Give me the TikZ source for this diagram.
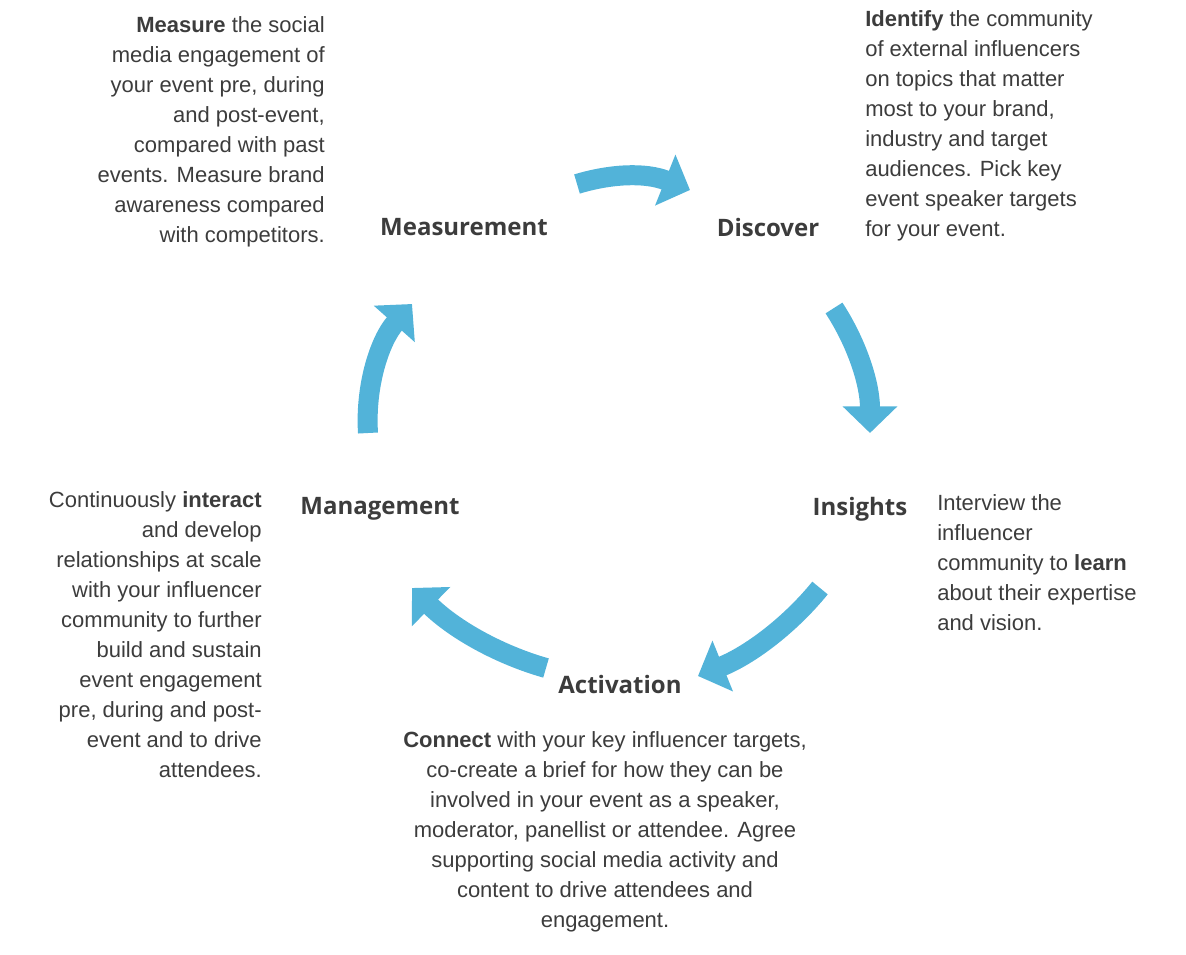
\documentclass[tikz,border=0pt]{standalone}
\usepackage{fontspec}
\setmainfont{Liberation Sans}
\newfontfamily\headfont{Open Sans}
\usetikzlibrary{arrows.meta, positioning}
\definecolor{cycleblue}{HTML}{52B3D9}
\definecolor{txtgray}{HTML}{3C3C3C}
\begin{document}
\begin{tikzpicture}[
   x=0.75pt, y=-0.75pt,
   head/.style = {font=\headfont\bfseries\fontsize{18}{22}\selectfont, text=txtgray},
   body/.style = {font=\fontsize{16.5}{22.5}\selectfont, text=txtgray,
                  inner sep=0pt, anchor=north},
  cycle/.style = {draw=cycleblue, line width=15, 
                  -{Triangle[length=20pt,width=40pt]}}
                    ]
\useasboundingbox (0,0) rectangle (1186,954);
% headings
\node (meas) [head] at (464,227) {Measurement};
\node (disc) [head] at (768,227) {Discover};
\node (ins)  [head] at (860,509) {Insights};
\node (mgmt) [head] at (380,509) {Management};
\node (act)  [head] at (620,684) {Activation};
% descriptions
\node (measT) [body, anchor=north east, align=right] at (325,16)
  {\textbf{Measure} the social\\media engagement of\\your event pre, during\\and post-event,\\compared with past\\events. Measure brand\\awareness compared\\with competitors.};
\node (discT) [body, anchor=north west, align=left] at (865,10)
  {\textbf{Identify} the community\\of external influencers\\on topics that matter\\most to your brand,\\industry and target\\audiences. Pick key\\event speaker targets\\for your event.};
\node (insT) [body, anchor=north west, align=left] at (937,494)
  {Interview the\\influencer\\community to \textbf{learn}\\about their expertise\\and vision.};
\node (mgmtT) [body, anchor=north east, align=right] at (262,491)
  {Continuously \textbf{interact}\\and develop\\relationships at scale\\with your influencer\\community to further\\build and sustain\\event engagement\\pre, during and post-\\event and to drive\\attendees.};
\node (actT) [body, align=center] at (605,731)
  {\textbf{Connect} with your key influencer targets,\\co-create a brief for how they can be\\involved in your event as a speaker,\\moderator, panellist or attendee. Agree\\supporting social media activity and\\content to drive attendees and\\engagement.};
% cycle arrows
\coordinate (t1) at (577,184);  \coordinate (t2) at (690,190);
\coordinate (r1) at (834,308);  \coordinate (r2) at (870,433);
\coordinate (b1) at (820,588);  \coordinate (b2) at (698,676);
\coordinate (l1) at (546,668);  \coordinate (l2) at (412,588);
\coordinate (m1) at (368,433);  \coordinate (m2) at (412,304);
\draw[cycle] (t1) .. controls (610,174) and (645,172) .. (t2);
\draw[cycle] (r1) .. controls (858,345) and (870,385) .. (r2);
\draw[cycle] (b1) .. controls (790,625) and (750,655) .. (b2);
\draw[cycle] (l1) .. controls (500,655) and (455,630) .. (l2);
\draw[cycle] (m1) .. controls (365,385) and (380,340) .. (m2);
\end{tikzpicture}
\end{document}
